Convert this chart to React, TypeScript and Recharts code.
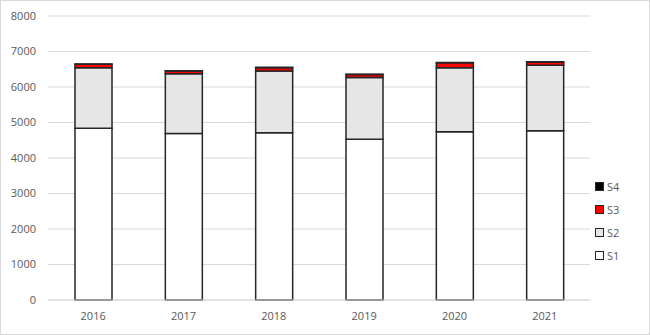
import React from 'react';
import { BarChart, Bar, XAxis, YAxis, CartesianGrid } from 'recharts';

const years = ['2016', '2017', '2018', '2019', '2020', '2021'];
const s1 = [4840, 4690, 4710, 4530, 4740, 4770];
const s2 = [1700, 1680, 1740, 1740, 1800, 1840];
const s3 = [100, 80, 95, 80, 140, 90];
const s4 = [10, 10, 10, 10, 10, 10];
const yTicks = [0, 1000, 2000, 3000, 4000, 5000, 6000, 7000, 8000];

const series = [
  { key: 'S1', values: s1, fill: '#ffffff' },
  { key: 'S2', values: s2, fill: '#e7e6e6' },
  { key: 'S3', values: s3, fill: '#ff0000' },
  { key: 'S4', values: s4, fill: '#000000' },
];

const data = years.map((year, i) => {
  const row: any = { year };
  series.forEach((s) => {
    row[s.key] = s.values[i];
  });
  return row;
});

const font = '"Open Sans", sans-serif';

const App: React.FC = () => {
  return (
    <div
      style={{
        position: 'absolute',
        left: 0,
        top: 0,
        width: 650,
        height: 335,
        border: '1px solid #d9d9d9',
        boxSizing: 'border-box',
        background: '#fff',
        fontFamily: font,
      }}
    >
      <div style={{ position: 'absolute', left: -1, top: -1 }}>
        <BarChart
          width={650}
          height={335}
          data={data}
          margin={{ top: 16, right: 60, left: 0, bottom: 0 }}
          barSize={37}
        >
          <CartesianGrid vertical={false} stroke="#d9d9d9" strokeWidth={1} />
          <XAxis
            dataKey="year"
            height={35}
            tickLine={false}
            axisLine={{ stroke: '#d9d9d9' }}
            tickSize={0}
            tickMargin={12}
            tick={{ fill: '#595959', fontSize: 11, fontFamily: font }}
          />
          <YAxis
            width={48}
            domain={[0, 8000]}
            ticks={yTicks}
            tickLine={false}
            axisLine={false}
            tickSize={0}
            tickMargin={12}
            tick={{ fill: '#595959', fontSize: 11, fontFamily: font }}
          />
          {series.map((s) => (
            <Bar
              key={s.key}
              dataKey={s.key}
              stackId="a"
              fill={s.fill}
              stroke="#262626"
              strokeWidth={1.5}
              isAnimationActive={false}
            />
          ))}
        </BarChart>
      </div>
      <div style={{ position: 'absolute', left: 594, top: 174 }}>
        {[...series].reverse().map((s) => (
          <div
            key={s.key}
            style={{ display: 'flex', alignItems: 'center', height: 23, fontSize: 11, color: '#595959' }}
          >
            <span
              style={{
                display: 'inline-block',
                width: 7,
                height: 7,
                background: s.fill,
                border: '1.5px solid #262626',
                marginRight: 3,
              }}
            />
            {s.key}
          </div>
        ))}
      </div>
    </div>
  );
};

export default App;
